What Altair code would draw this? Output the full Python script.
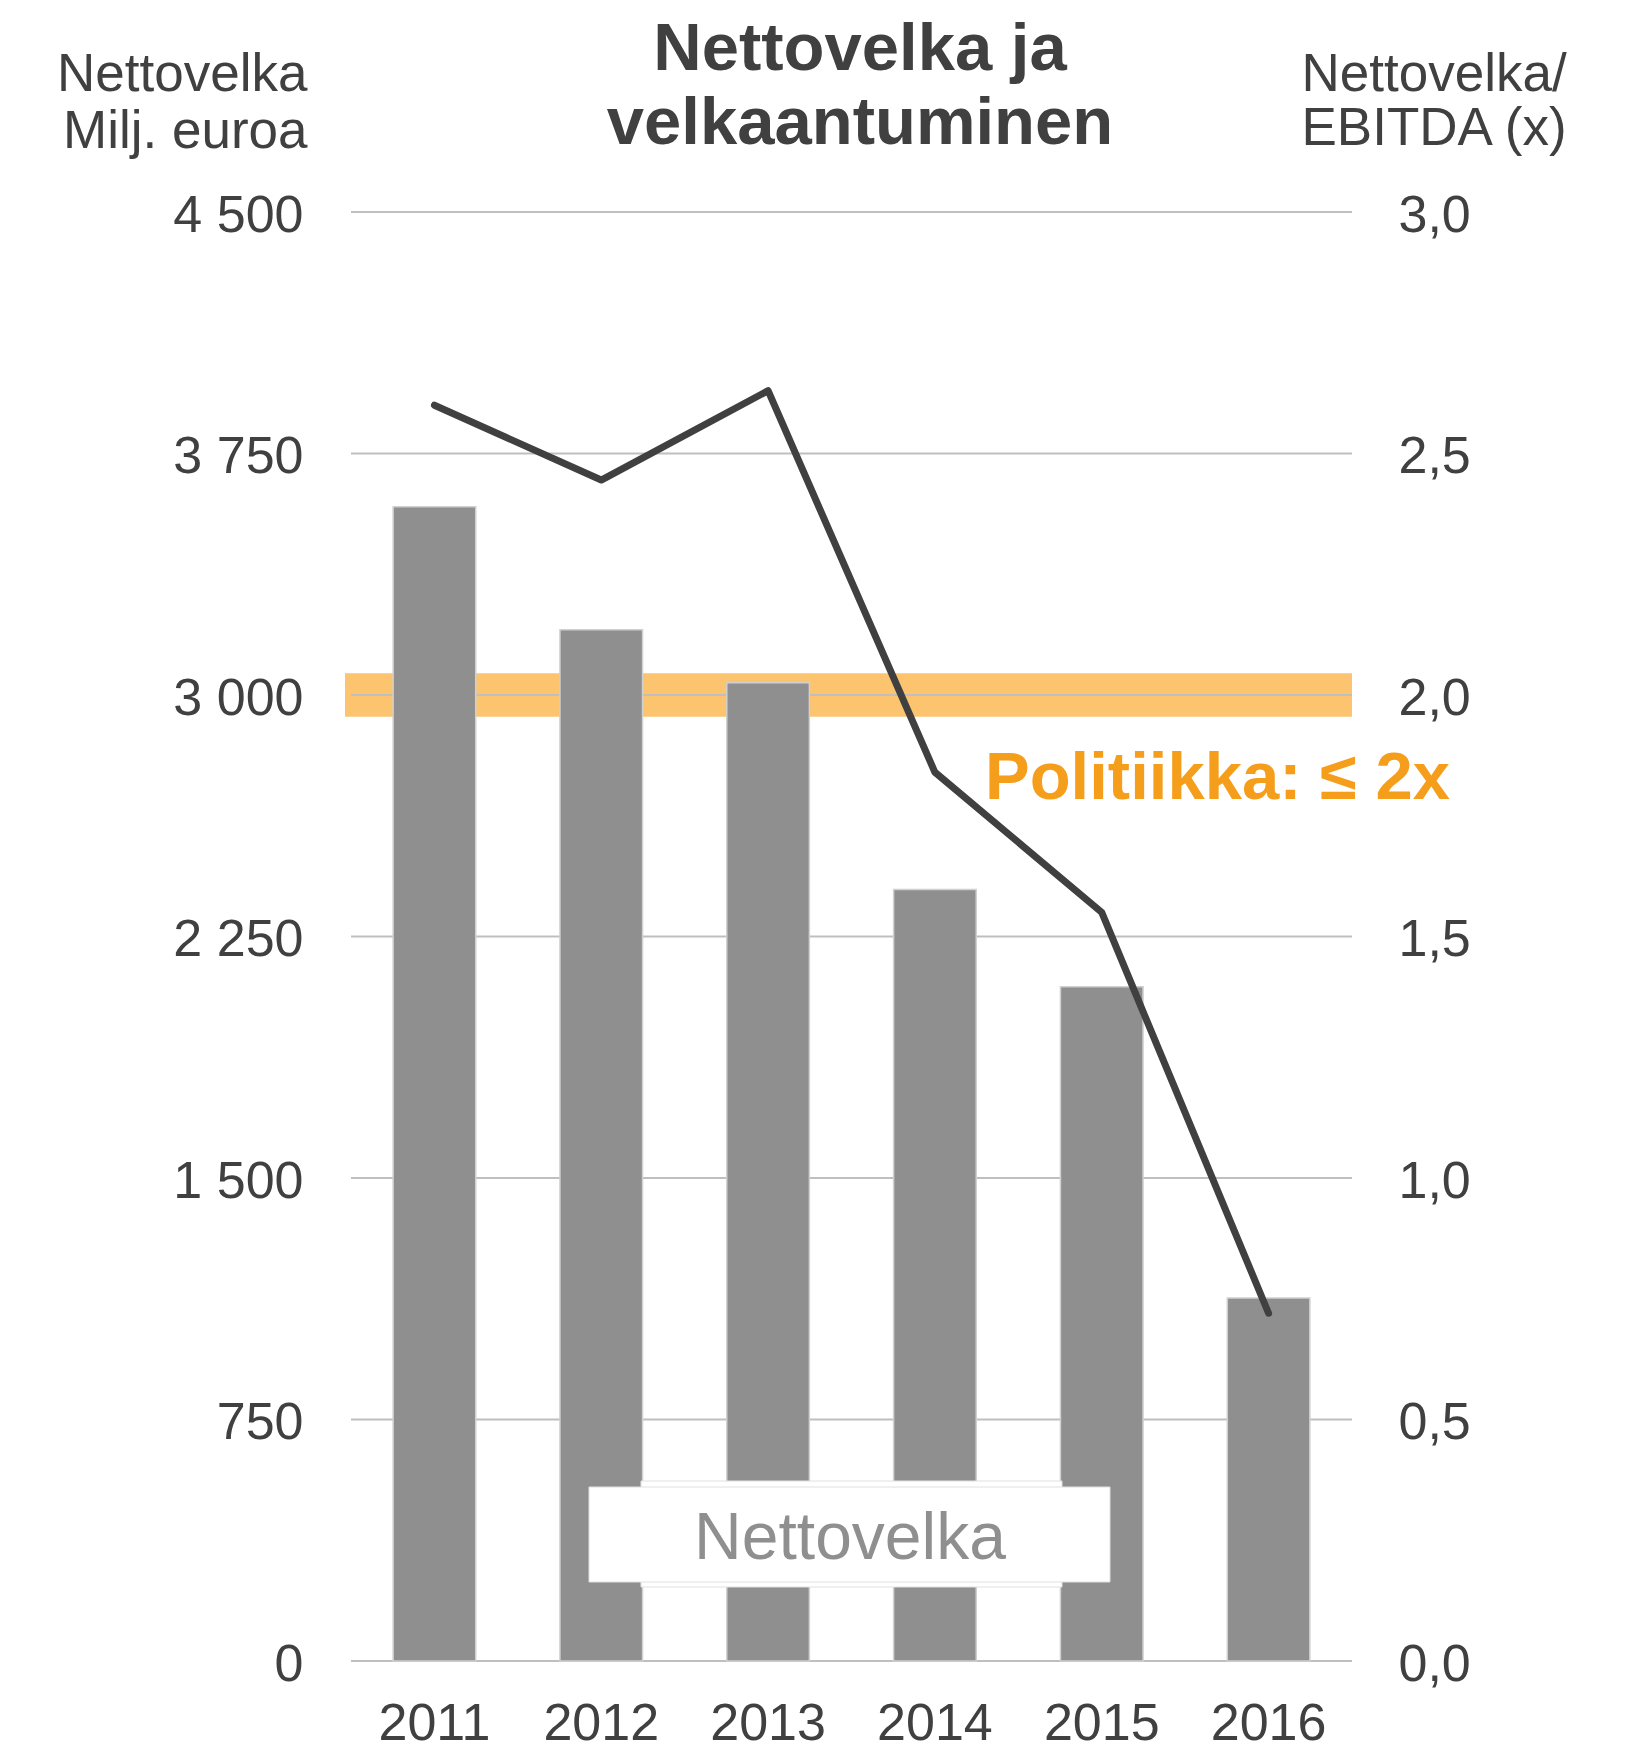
import altair as alt
import pandas as pd

# ---- data ----
years = ["2011", "2012", "2013", "2014", "2015", "2016"]
net_debt = [3585, 3203, 3038, 2396, 2094, 1127]          # Milj. euroa (left axis)
ratio = [2.60, 2.445, 2.63, 1.84, 1.55, 0.72]             # Nettovelka/EBITDA (right axis)
left_ticks = [0, 750, 1500, 2250, 3000, 3750, 4500]
right_ticks = [0.0, 0.5, 1.0, 1.5, 2.0, 2.5, 3.0]
policy_band = [1.955, 2.045]                               # highlighted band around 2.0x
title_lines = ["Nettovelka ja", "velkaantuminen"]
left_title = ["Nettovelka", "Milj. euroa"]
right_title = ["Nettovelka/", "EBITDA (x)"]
policy_label = "Politiikka: \u2264 2x"
legend_label = "Nettovelka"

# ---- styling ----
W, H = 1001, 1449
FONT = "Liberation Sans"
DARK = "#404040"
BAR = "#8f8f8f"
GRID = "#bfbfbf"
BAND = "#fcc46f"
ORANGE = "#f59e1b"

df = pd.DataFrame({"year": years, "net_debt": net_debt, "ratio": ratio})
grid_df = pd.DataFrame({"v": left_ticks})
band_df = pd.DataFrame({"lo": [policy_band[0]], "hi": [policy_band[1]]})


def one():
    return alt.InlineData(values=[{"k": 1}])


x_enc = alt.X(
    "year:N",
    sort=years,
    scale=alt.Scale(paddingInner=0.505, paddingOuter=0.2525),
    axis=alt.Axis(title=None, labelAngle=0, labelPadding=37, labelFontSize=52,
                  labelColor=DARK, labelFont=FONT, ticks=False, tickSize=0, domain=False),
)

band = alt.Chart(band_df).mark_rect(color=BAND).encode(
    x=alt.value(-6), x2=alt.value(W),
    y=alt.Y("lo:Q", scale=alt.Scale(domain=[0, 3], nice=False), axis=None),
    y2="hi:Q",
)

grid = alt.Chart(grid_df).mark_rule(color=GRID, strokeWidth=2).encode(
    y=alt.Y("v:Q", scale=alt.Scale(domain=[0, 4500], nice=False), axis=None),
    x=alt.value(0), x2=alt.value(W),
)

bars = alt.Chart(df).mark_bar(color=BAR, stroke="#d0d0d0", strokeWidth=1.5).encode(
    x=x_enc,
    y=alt.Y(
        "net_debt:Q",
        scale=alt.Scale(domain=[0, 4500], nice=False),
        axis=alt.Axis(
            orient="left", values=left_ticks,
            labelExpr="replace(format(datum.value, ','), ',', ' ')",
            labelFontSize=52, labelColor=DARK, labelFont=FONT,
            labelPadding=48, labelOffset=3,
            ticks=False, tickSize=0, domain=False, grid=False,
            title=left_title, titleAngle=0, titleAlign="right", titleBaseline="alphabetic",
            titleX=-44, titleY=-122, titleLineHeight=57, titleFontSize=53,
            titleFontWeight="normal", titleColor=DARK, titleFont=FONT,
        ),
    ),
)

line = alt.Chart(df).mark_line(color=DARK, strokeWidth=7, strokeCap="round",
                               strokeJoin="round").encode(
    x=x_enc,
    y=alt.Y(
        "ratio:Q",
        scale=alt.Scale(domain=[0, 3], nice=False),
        axis=alt.Axis(
            orient="right", values=right_ticks,
            labelExpr="replace(format(datum.value, '.1f'), '.', ',')",
            labelFontSize=52, labelColor=DARK, labelFont=FONT,
            labelPadding=46, labelOffset=3,
            ticks=False, tickSize=0, domain=False, grid=False,
            title=right_title, titleAngle=0, titleAlign="left", titleBaseline="alphabetic",
            titleX=-51, titleY=-122, titleLineHeight=54, titleFontSize=53,
            titleFontWeight="normal", titleColor=DARK, titleFont=FONT,
        ),
    ),
)

outer_box = alt.Chart(one()).mark_rect(fill="white", stroke="#e0e0e0", strokeWidth=1).encode(
    x=alt.value(290), x2=alt.value(711), y=alt.value(1269), y2=alt.value(1375),
)
inner_box = alt.Chart(one()).mark_rect(fill="white", stroke="#e0e0e0", strokeWidth=1).encode(
    x=alt.value(238), x2=alt.value(759), y=alt.value(1275), y2=alt.value(1370),
)
legend_text = alt.Chart(one()).mark_text(
    text=legend_label, font=FONT, fontSize=66, color=BAR, align="center", baseline="alphabetic",
).encode(x=alt.value(499), y=alt.value(1347))

policy_text = alt.Chart(one()).mark_text(
    text=policy_label, font=FONT, fontSize=67, fontWeight="bold", color=ORANGE,
    align="left", baseline="alphabetic",
).encode(x=alt.value(634), y=alt.value(587))

title1 = alt.Chart(one()).mark_text(
    text=title_lines[0], font=FONT, fontSize=67, fontWeight="bold", color=DARK,
    align="center", baseline="alphabetic",
).encode(x=alt.value(509), y=alt.value(-142))
title2 = alt.Chart(one()).mark_text(
    text=title_lines[1], font=FONT, fontSize=67, fontWeight="bold", color=DARK,
    align="center", baseline="alphabetic",
).encode(x=alt.value(509), y=alt.value(-68))

chart = (
    alt.layer(band, grid, bars, line, outer_box, inner_box, legend_text, policy_text,
              title1, title2)
    .resolve_scale(y="independent")
    .properties(
        width=W, height=H,
        autosize=alt.AutoSizeParams(type="none"),
        padding={"left": 343, "top": 204, "right": 240, "bottom": 88},
    )
    .configure(font=FONT, background="white")
    .configure_view(strokeWidth=0, stroke="transparent")
)

chart.save("out.html", embed_options={"renderer": "svg", "actions": False})
